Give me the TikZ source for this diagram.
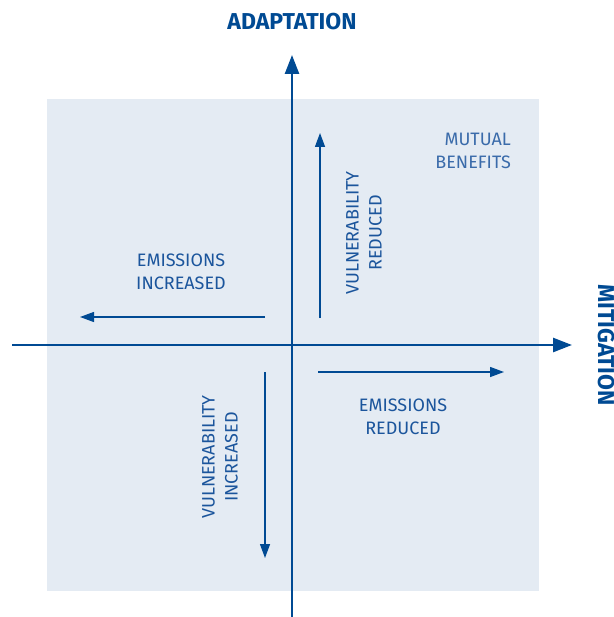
\documentclass[tikz,border=0pt]{standalone}
\usepackage{fontspec}
\setmainfont{Fira Sans}
\usetikzlibrary{arrows.meta}
\definecolor{axisblue}{HTML}{004A93}
\definecolor{txtblue}{HTML}{1B559C}
\definecolor{lightblue}{HTML}{3A6BAA}
\definecolor{boxfill}{HTML}{E4EBF3}
\tikzset{
  axis/.style={draw=axisblue, line width=2.6pt, -{Triangle[length=19pt,width=14pt]}},
  small/.style={draw=axisblue, line width=1.3pt, -{Triangle[length=14pt,width=10pt]}},
  label/.style={text=txtblue, font=\fontsize{18}{23}\selectfont, align=center, inner sep=0pt},
  title/.style={text=axisblue, font=\fontsize{23}{26}\selectfont\bfseries, inner sep=0pt}
}
\begin{document}
\begin{tikzpicture}[x=1pt,y=-1pt]
\useasboundingbox (0,0) rectangle (613,617);
\fill[boxfill] (47,99) rectangle (539,591);
% axes
\coordinate (vbot) at (292,617);
\coordinate (vtop) at (292,55);
\coordinate (hleft) at (12,345);
\coordinate (hright) at (572,345);
\draw[axis] (vbot) -- (vtop);
\draw[axis] (hleft) -- (hright);
% small arrows
\coordinate (eis) at (265,317); \coordinate (eie) at (80,317);
\coordinate (vrs) at (320,318); \coordinate (vre) at (320,133);
\coordinate (ers) at (318,372); \coordinate (ere) at (504,372);
\coordinate (vis) at (265,372); \coordinate (vie) at (265,558);
\draw[small] (eis) -- (eie);
\draw[small] (vrs) -- (vre);
\draw[small] (ers) -- (ere);
\draw[small] (vis) -- (vie);
% titles
\node[title] (adapt) at (292,22) {ADAPTATION};
\node[title, rotate=-90, anchor=base] (mitig) at (598,345) {MITIGATION};
% labels
\node[label, text=lightblue, align=right, anchor=east] (mutual) at (511,151) {MUTUAL\\BENEFITS};
\node[label] (eminc) at (181,272) {EMISSIONS\\INCREASED};
\node[label] (emred) at (403,417) {EMISSIONS\\REDUCED};
\node[label, rotate=90] (vulred) at (364,233) {VULNERABILITY\\REDUCED};
\node[label, rotate=90] (vulinc) at (220,457) {VULNERABILITY\\INCREASED};
\end{tikzpicture}
\end{document}
